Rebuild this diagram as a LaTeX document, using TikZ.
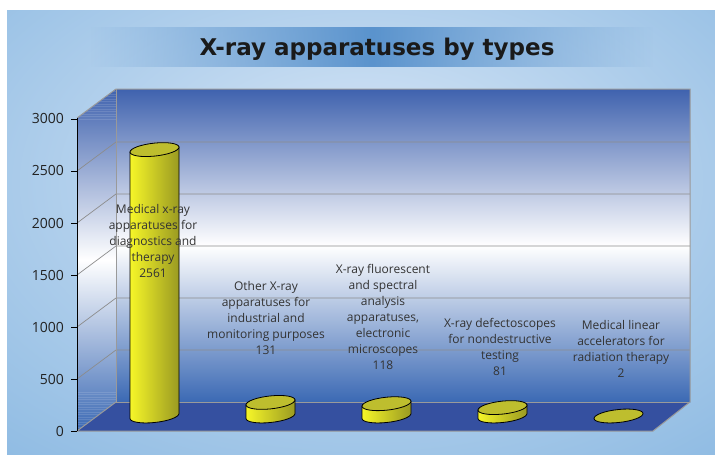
\documentclass[tikz,border=0pt]{standalone}
\usepackage{fontspec}
\setmainfont{Open Sans}
\newfontfamily\titlefont{DejaVu Sans}
\usetikzlibrary{fadings}
\definecolor{bgouter}{HTML}{72AADB}
\definecolor{bginner}{HTML}{C8DDF2}
\definecolor{band}{HTML}{5A93CD}
\definecolor{walltop}{HTML}{3F62AE}
\definecolor{wallbot}{HTML}{3B69B4}
\definecolor{floorc}{HTML}{3550A0}
\definecolor{gridc}{HTML}{8C8C8C}
\definecolor{edgec}{HTML}{9A9A9A}
\definecolor{barl}{HTML}{F6F628}
\definecolor{barm}{HTML}{E2E224}
\definecolor{barr}{HTML}{9A9A22}
\definecolor{bartop}{HTML}{BEBE2E}
\definecolor{labc}{HTML}{333333}
\definecolor{axc}{HTML}{222222}
\definecolor{titc}{HTML}{1A1A1A}
\pgfdeclareradialshading{bgshade}{\pgfpoint{0bp}{8bp}}{color(0bp)=(bginner); color(8bp)=(bginner); color(55bp)=(bgouter); color(80bp)=(bgouter)}
\tikzfading[name=sidefade, left color=transparent!100, right color=transparent!100, middle color=transparent!0]
\newcommand\drawcyl[2]{%
  \begin{scope}[shift={(#1,416)}, yslant=0.1]
    \shade[left color=barl, middle color=barm, right color=barr, draw=black, line width=0.8pt]
      (-24.5,0) -- (-24.5,-#2) -- (24.5,-#2) -- (24.5,0)
      arc[start angle=0, end angle=-180, x radius=24.5pt, y radius=6.5pt] -- cycle;
    \filldraw[fill=bartop, draw=black, line width=0.8pt] (0,-#2) ellipse[x radius=24.5pt, y radius=6.5pt];
  \end{scope}}
\begin{document}
\begin{tikzpicture}[x=1pt,y=-1pt,
  lbl/.style={font=\fontsize{12}{16}\selectfont, text=labc, align=center, inner sep=0pt},
  ylab/.style={font=\fontsize{14}{15}\selectfont, text=axc, anchor=east, inner sep=0pt},
  gridln/.style={draw=gridc, line width=0.7pt},
  edgeln/.style={draw=edgec, line width=1pt}]
\useasboundingbox (0,0) rectangle (715,455);
\fill[white] (0,0) rectangle (715,455);
\shade[shading=bgshade] (7,10) rectangle (715,455);
% title band
\fill[band, path fading=sidefade] (91,27) rectangle (653,67);
\node[font=\titlefont\fontsize{23}{26}\selectfont\bfseries, text=titc, anchor=base] (title) at (377,55) {X-ray apparatuses by types};
% walls
\shade[top color=walltop, bottom color=wallbot, middle color=white] (116,89) rectangle (690,402);
\shade[top color=walltop, bottom color=wallbot, middle color=white] (77,118) -- (116,89) -- (116,402) -- (77,431) -- cycle;
\begin{scope}
  \clip (77,118) -- (116,89) -- (116,402) -- (77,431) -- cycle;
  \foreach \yy in {89,91.5,...,120}{\draw[white, opacity=0.12, line width=0.6pt] (77,\yy) -- (116,\yy);}
  \foreach \yy in {392,394.5,...,432}{\draw[white, opacity=0.12, line width=0.6pt] (77,\yy) -- (116,\yy);}
\end{scope}
\fill[floorc] (77,431) -- (116,402) -- (690,402) -- (653,431) -- cycle;
% grid
\foreach \v in {500,1000,...,2500}{
  \draw[gridln] (77,{431-0.104*\v}) -- (116,{402-0.104*\v}) -- (690,{402-0.104*\v});
}
% edges
\draw[edgeln] (77,118) -- (116,89) -- (690,89) -- (690,402) -- (653,431) -- (77,431);
\draw[edgeln] (116,89) -- (116,402) -- (690,402);
\draw[edgeln] (77,431) -- (116,402);
% axis
\draw[black, line width=0.8pt] (77,118) -- (77,431);
\foreach \v in {0,500,...,3000}{
  \draw[black, line width=0.8pt] (71,{431-0.104*\v}) -- (77,{431-0.104*\v});
  \node[ylab] (y\v) at (64,{431-0.104*\v}) {\v};
}
% bars
\drawcyl{154.5}{266.4}
\drawcyl{270.5}{13.6}
\drawcyl{386.5}{12.3}
\drawcyl{502.5}{8.4}
\begin{scope}[shift={(618.5,416)}, yslant=0.1]
  \filldraw[fill=bartop, draw=black, line width=0.8pt] (0,0) ellipse[x radius=24.5pt, y radius=6.5pt];
\end{scope}
% labels
\node[lbl] (l1) at (153,241) {Medical x-ray\\apparatuses for\\diagnostics and\\therapy\\2561};
\node[lbl] (l2) at (266,318) {Other X-ray\\apparatuses for\\industrial and\\monitoring purposes\\131};
\node[lbl] (l3) at (383,317) {X-ray fluorescent\\and spectral\\analysis\\apparatuses,\\electronic\\microscopes\\118};
\node[lbl] (l4) at (500,347) {X-ray defectoscopes\\for nondestructive\\testing\\81};
\node[lbl] (l5) at (621,349) {Medical linear\\accelerators for\\radiation therapy\\2};
\end{tikzpicture}
\end{document}
